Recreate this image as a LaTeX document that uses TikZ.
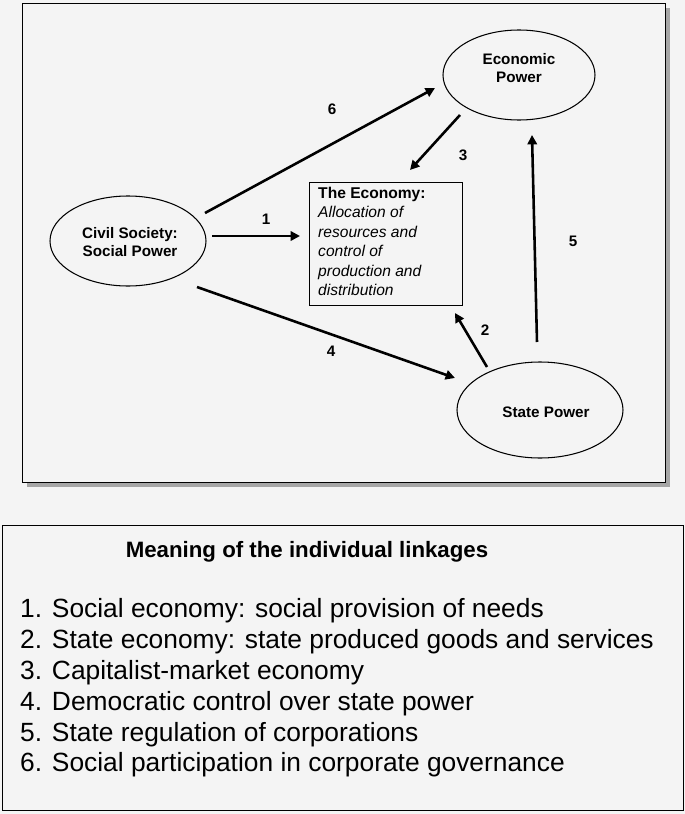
\documentclass[tikz,border=0pt]{standalone}
\usepackage{fontspec}
\setmainfont{Liberation Sans}
\usetikzlibrary{arrows.meta}
\definecolor{bg}{HTML}{F4F4F4}
\begin{document}
\begin{tikzpicture}[x=0.03cm,y=-0.03cm,
  lnk/.style={line width=2.2pt,-{Triangle[length=8pt,width=8pt]}},
  num/.style={font=\bfseries\fontsize{13}{15}\selectfont},
  ntext/.style={font=\bfseries\fontsize{13}{15.5}\selectfont,align=center}]
\fill[bg] (0,0) rectangle (685,814);
\useasboundingbox (0,0) rectangle (685,814);
\fill[gray!70] (27,8) rectangle (670,487);
\draw[fill=bg,line width=0.8pt] (22,3) rectangle (665,482);
% ellipses
\draw[line width=0.9pt] (519,75) ellipse [x radius=76,y radius=45];
\node[ntext] (ep) at (519,68) {Economic\\Power};
\draw[line width=0.9pt] (128,241) ellipse [x radius=78,y radius=45];
\node[ntext] (cs) at (130,242) {Civil Society:\\Social Power};
\draw[line width=0.9pt] (540,410) ellipse [x radius=83,y radius=48];
\node[ntext] (sp) at (546,412) {State Power};
% economy box
\draw[line width=0.8pt] (309,182) rectangle (462,305);
\node[anchor=north west,align=left,inner sep=0pt,font=\fontsize{13.3}{16.6}\selectfont] (ec) at (318,187)
 {\textbf{The Economy:}\\\textit{Allocation of}\\\textit{resources and}\\\textit{control of}\\\textit{production and}\\\textit{distribution}};
% coordinates
\coordinate (a6) at (205,213); \coordinate (b6) at (435,88);
\coordinate (a3) at (460,115); \coordinate (b3) at (410,170);
\coordinate (a1) at (212,236); \coordinate (b1) at (300,236);
\coordinate (a4) at (197,287); \coordinate (b4) at (455,378);
\coordinate (a2) at (487,367); \coordinate (b2) at (455,313);
\coordinate (a5) at (537,342); \coordinate (b5) at (532,135);
\foreach \i in {1,...,6} {\draw[lnk] (a\i) -- (b\i);}
\node[num] (n6) at (332,109) {6};
\node[num] (n3) at (463,155) {3};
\node[num] (n1) at (266,219) {1};
\node[num] (n4) at (331,351) {4};
\node[num] (n2) at (485,330) {2};
\node[num] (n5) at (573,241) {5};
% legend
\draw[line width=0.8pt] (2,525) rectangle (683,810);
\node[font=\bfseries\fontsize{19}{22}\selectfont] (lt) at (307,552) {Meaning of the individual linkages};
\node[anchor=north west,align=left,inner sep=0pt,font=\fontsize{22.5}{26.4}\selectfont] (li) at (20,598)
{1. Social economy: social provision of needs\\
2. State economy: state produced goods and services\\
3. Capitalist-market economy\\
4. Democratic control over state power\\
5. State regulation of corporations\\
6. Social participation in corporate governance};
\end{tikzpicture}
\end{document}
